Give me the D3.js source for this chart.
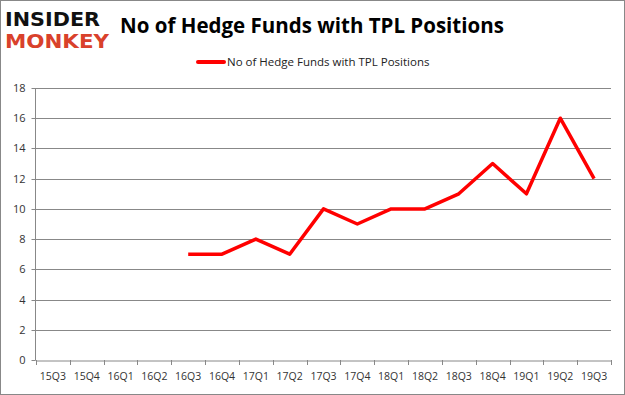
<!DOCTYPE html>
<html><head><meta charset="utf-8">
<script src="https://cdn.jsdelivr.net/npm/d3@7"></script>
<style>
html,body{margin:0;padding:0;background:#fff;}
svg{display:block;}
</style></head>
<body>
<svg id="chart" width="625" height="395"></svg>
<script>
const categories = ["15Q3","15Q4","16Q1","16Q2","16Q3","16Q4","17Q1","17Q2","17Q3","17Q4","18Q1","18Q2","18Q3","18Q4","19Q1","19Q2","19Q3"];
const values = [null,null,null,null,7,7,8,7,10,9,10,10,11,13,11,16,12];
const yTicks = [0,2,4,6,8,10,12,14,16,18];
const seriesName = "No of Hedge Funds with TPL Positions";
const titleText = "No of Hedge Funds with TPL Positions";

const svg = d3.select("#chart");
const W = 625, H = 395;
const font = "'Open Sans', 'Liberation Sans', sans-serif";

svg.append("rect").attr("x",0.5).attr("y",0.5).attr("width",W-1).attr("height",H-1)
  .attr("fill","#fff").attr("stroke","#888").attr("stroke-width",1);

const x = d3.scaleBand().domain(categories).range([36, 611]);
const y = d3.scaleLinear().domain([0,18]).range([360, 88]);

// gridlines
svg.append("g").selectAll("line").data(yTicks.filter(d=>d>0)).join("line")
  .attr("x1",36).attr("x2",611)
  .attr("y1",d=>Math.round(y(d))+0.5).attr("y2",d=>Math.round(y(d))+0.5)
  .attr("stroke","#888").attr("stroke-width",1);

// y axis
const yAxis = svg.append("g").attr("transform","translate(35.5,0)")
  .call(d3.axisLeft(y).tickValues(yTicks).tickSize(4).tickPadding(6));
yAxis.select(".domain").attr("stroke","#888").attr("d","M0,88V360.5");
yAxis.selectAll(".tick line").attr("stroke","#888");
yAxis.selectAll(".tick").attr("transform",d=>`translate(0,${Math.round(y(d))+0.5})`);
yAxis.selectAll("text").attr("font-family",font).attr("font-size",11).attr("fill","#333");

// x axis
const xAxis = svg.append("g").attr("transform","translate(0,360.5)")
  .call(d3.axisBottom(x).tickSize(0).tickPadding(12));
xAxis.select(".domain").attr("stroke","#888");
xAxis.selectAll("text").attr("font-family",font).attr("font-size",10.5).attr("fill","#333");
// category boundary ticks
const bounds = categories.map(c=>x(c)).concat([x(categories[categories.length-1])+x.bandwidth()]);
svg.append("g").selectAll("line").data(bounds).join("line")
  .attr("x1",d=>Math.round(d)+0.5).attr("x2",d=>Math.round(d)+0.5)
  .attr("y1",360).attr("y2",365).attr("stroke","#888");

// line
const line = d3.line()
  .defined(d=>d.v!==null)
  .x(d=>x(d.c)+x.bandwidth()/2)
  .y(d=>y(d.v));
svg.append("path").datum(categories.map((c,i)=>({c,v:values[i]})))
  .attr("d",line).attr("fill","none").attr("stroke","#ff0000")
  .attr("stroke-width",3.5).attr("stroke-linejoin","round");

// title
svg.append("text").attr("x",312).attr("y",33).attr("text-anchor","middle")
  .attr("font-family",font).attr("font-weight","bold").attr("font-size",20.5)
  .attr("fill","#000").text(titleText);

// legend
svg.append("line").attr("x1",198).attr("x2",224).attr("y1",62).attr("y2",62)
  .attr("stroke","#ff0000").attr("stroke-width",4).attr("stroke-linecap","round");
svg.append("text").attr("x",227).attr("y",66).attr("font-family",font).attr("font-size",11.5)
  .attr("fill","#222").text(seriesName);

// logo
svg.append("text").attr("x",5).attr("y",26).attr("font-family","'DejaVu Sans', sans-serif")
  .attr("font-weight","bold").attr("font-size",20).attr("textLength",95).attr("lengthAdjust","spacingAndGlyphs")
  .attr("fill","#111").text("INSIDER");
svg.append("text").attr("x",5).attr("y",48).attr("font-family","'DejaVu Sans', sans-serif")
  .attr("font-weight","bold").attr("font-size",20).attr("textLength",104).attr("lengthAdjust","spacingAndGlyphs")
  .attr("fill","#d9412b").text("MONKEY");
</script>
</body></html>
